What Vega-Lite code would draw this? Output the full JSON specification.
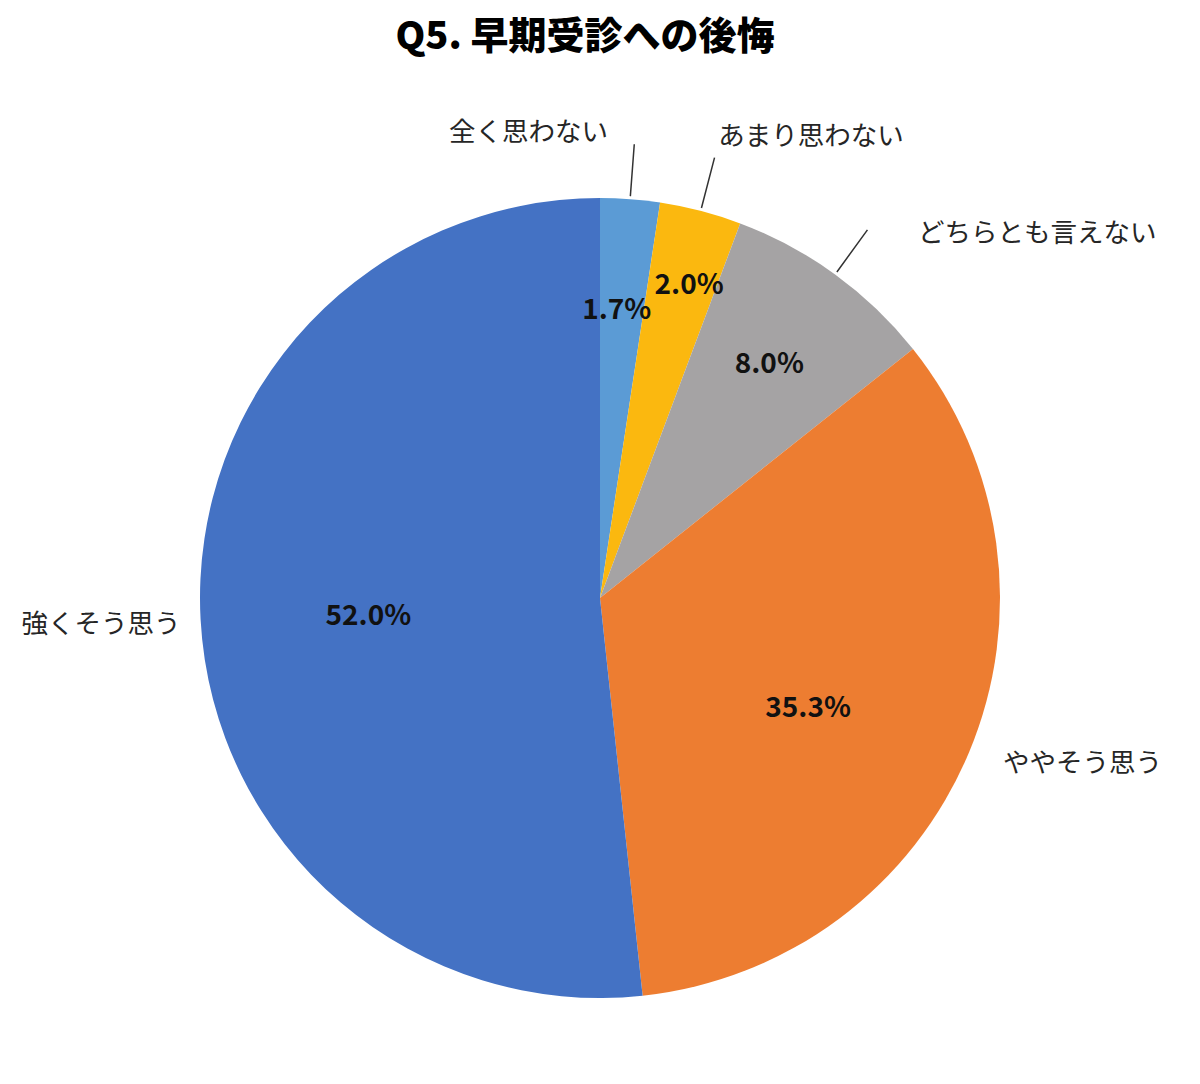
{
  "$schema": "https://vega.github.io/schema/vega-lite/v6.json",
  "width": 1200,
  "height": 1084,
  "autosize": {"type": "fit", "contains": "padding"},
  "padding": {"top": 25, "left": 0, "right": 0, "bottom": 0},
  "background": "white",
  "title": {
    "text": "Q5. 早期受診への後悔",
    "font": "Noto Sans CJK JP",
    "fontSize": 38,
    "fontWeight": 900,
    "color": "#000000",
    "anchor": "middle",
    "dx": -15,
    "offset": 49
  },
  "config": {
    "view": {"stroke": null},
    "text": {"font": "Noto Sans CJK JP", "baseline": "middle"}
  },
  "data": {
    "values": [
      {"answer": "全く思わない", "q": 1, "share": 2.4, "pct": 0.017},
      {"answer": "あまり思わない", "q": 2, "share": 3.3, "pct": 0.02},
      {"answer": "どちらとも言えない", "q": 3, "share": 8.6, "pct": 0.08},
      {"answer": "ややそう思う", "q": 4, "share": 34.0, "pct": 0.353},
      {"answer": "強くそう思う", "q": 5, "share": 51.7, "pct": 0.52}
    ]
  },
  "encoding": {
    "theta": {"field": "share", "type": "quantitative", "stack": true},
    "order": {"field": "q", "type": "ordinal", "sort": "ascending"}
  },
  "layer": [
    {
      "mark": {"type": "arc", "radius": 400},
      "encoding": {
        "color": {
          "field": "answer",
          "type": "nominal",
          "scale": {
            "domain": ["全く思わない", "あまり思わない", "どちらとも言えない", "ややそう思う", "強くそう思う"],
            "range": ["#5B9BD5", "#FBB80F", "#A5A3A4", "#ED7D31", "#4472C4"]
          },
          "legend": null
        }
      }
    },
    {
      "mark": {"type": "arc", "radius": 455, "radius2": 403, "padAngle": 1, "fillOpacity": 0, "stroke": "#333333", "strokeWidth": 1.5},
      "encoding": {
        "strokeOpacity": {"condition": {"test": "datum.q <= 3", "value": 1}, "value": 0}
      }
    },
    {
      "mark": {"type": "text", "radius": 288, "dx": -5, "fontSize": 28, "fontWeight": "bold", "color": "#111111"},
      "encoding": {
        "text": {"condition": {"test": "datum.q == 1", "field": "pct", "type": "quantitative", "format": ".1%"}, "value": ""}
      }
    },
    {
      "mark": {"type": "text", "radius": 322, "dx": 8, "fontSize": 28, "fontWeight": "bold", "color": "#111111"},
      "encoding": {
        "text": {"condition": {"test": "datum.q == 2", "field": "pct", "type": "quantitative", "format": ".1%"}, "value": ""}
      }
    },
    {
      "mark": {"type": "text", "radius": 288, "fontSize": 28, "fontWeight": "bold", "color": "#111111"},
      "encoding": {
        "text": {"condition": {"test": "datum.q == 3", "field": "pct", "type": "quantitative", "format": ".1%"}, "value": ""}
      }
    },
    {
      "mark": {"type": "text", "radius": 232, "dx": -6, "dy": 22, "fontSize": 28, "fontWeight": "bold", "color": "#111111"},
      "encoding": {
        "text": {"condition": {"test": "datum.q == 4", "field": "pct", "type": "quantitative", "format": ".1%"}, "value": ""}
      }
    },
    {
      "mark": {"type": "text", "radius": 232, "dy": 7, "fontSize": 28, "fontWeight": "bold", "color": "#111111"},
      "encoding": {
        "text": {"condition": {"test": "datum.q == 5", "field": "pct", "type": "quantitative", "format": ".1%"}, "value": ""}
      }
    },
    {
      "mark": {"type": "text", "radius": 466, "dx": -27, "align": "right", "fontSize": 26.5, "color": "#262626"},
      "encoding": {
        "text": {"condition": {"test": "datum.q == 1", "field": "answer", "type": "nominal"}, "value": ""}
      }
    },
    {
      "mark": {"type": "text", "radius": 466, "dx": 1, "dy": -10, "align": "left", "fontSize": 26.5, "color": "#262626"},
      "encoding": {
        "text": {"condition": {"test": "datum.q == 2", "field": "answer", "type": "nominal"}, "value": ""}
      }
    },
    {
      "mark": {"type": "text", "radius": 466, "dx": 44, "dy": 13, "align": "left", "fontSize": 26.5, "color": "#262626"},
      "encoding": {
        "text": {"condition": {"test": "datum.q == 3", "field": "answer", "type": "nominal"}, "value": ""}
      }
    },
    {
      "mark": {"type": "text", "radius": 466, "dx": -27, "dy": -14, "align": "left", "fontSize": 26.5, "color": "#262626"},
      "encoding": {
        "text": {"condition": {"test": "datum.q == 4", "field": "answer", "type": "nominal"}, "value": ""}
      }
    },
    {
      "mark": {"type": "text", "radius": 422, "dy": 4, "dx": 2, "align": "right", "fontSize": 26.5, "color": "#262626"},
      "encoding": {
        "text": {"condition": {"test": "datum.q == 5", "field": "answer", "type": "nominal"}, "value": ""}
      }
    }
  ]
}
